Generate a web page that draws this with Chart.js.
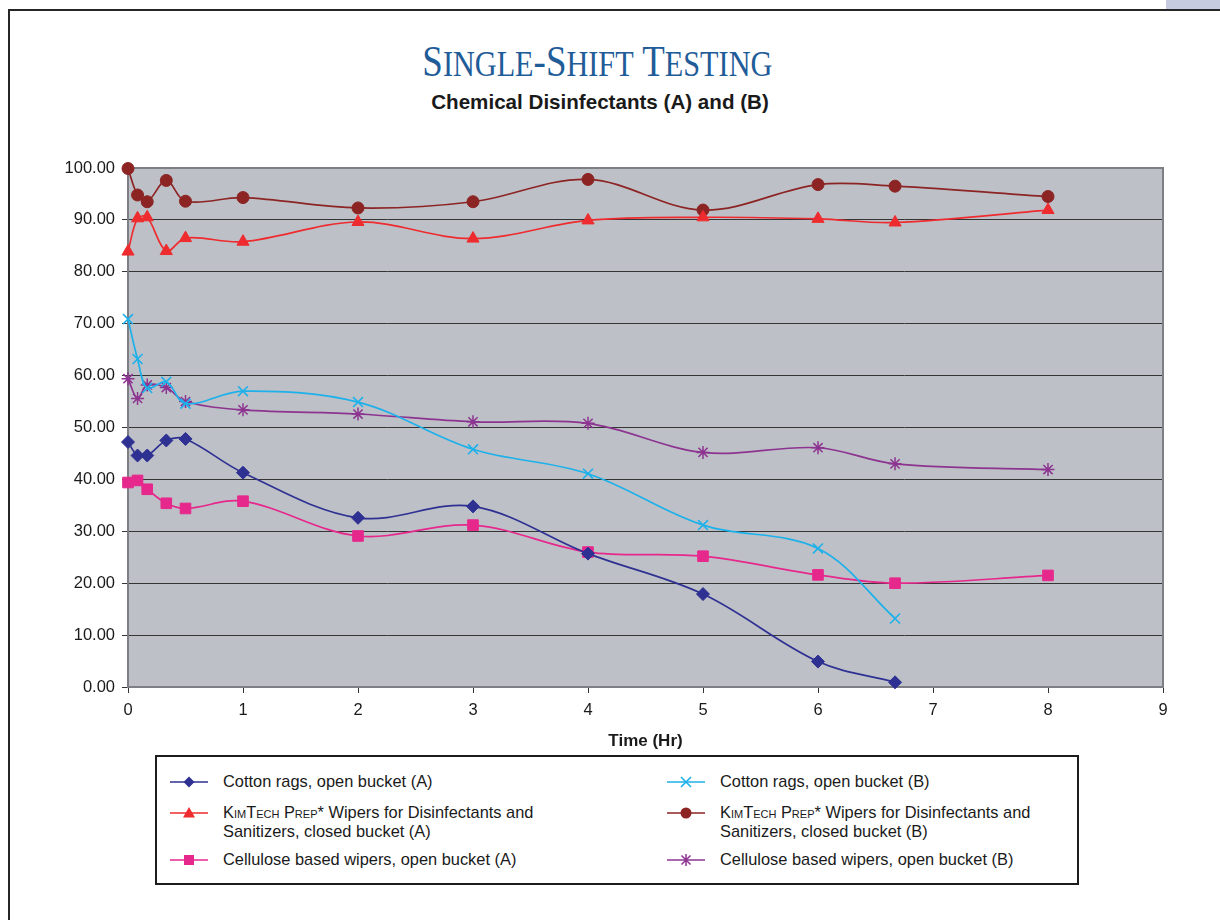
<!DOCTYPE html>
<html>
<head>
<meta charset="utf-8">
<script src="https://cdn.jsdelivr.net/npm/chart.js@4.4.1/dist/chart.umd.min.js"></script>
<style>
html,body{margin:0;padding:0;background:#fff;width:1220px;height:920px;overflow:hidden;}
body{position:relative;font-family:"Liberation Sans",Arial,sans-serif;color:#1a1a1a;}
#frameTop{position:absolute;left:8px;top:9px;width:1212px;height:2px;background:#262626;}
#frameLeft{position:absolute;left:8px;top:9px;width:2px;height:911px;background:#262626;}
#tab{position:absolute;left:1166px;top:0;width:54px;height:9px;background:#c6cbe0;}
#title{position:absolute;left:0;width:1194px;top:38px;text-align:center;font-family:"Liberation Serif","Times New Roman",serif;color:#1f5c98;font-size:44px;line-height:48px;white-space:nowrap;}
#title .in{display:inline-block;transform:scaleX(0.84);transform-origin:center;}
#title .sc{font-size:36px;}
#subtitle{position:absolute;left:0;width:1200px;top:89px;text-align:center;font-weight:bold;font-size:20.6px;line-height:25px;white-space:nowrap;}
#chart{position:absolute;left:0;top:0;}
#legend{position:absolute;left:155px;top:755px;width:920px;height:126px;border:2px solid #1c1c1c;background:#fff;}
.item{position:absolute;font-size:16.4px;line-height:19px;white-space:nowrap;}
.item svg{position:absolute;left:0;top:0;}
.item .txt{position:absolute;white-space:nowrap;}
.sm{font-variant:small-caps;}
</style>
</head>
<body>
<div id="tab"></div>
<div id="frameTop"></div>
<div id="frameLeft"></div>
<div id="title"><span class="in">S<span class="sc">INGLE</span>-S<span class="sc">HIFT</span> T<span class="sc">ESTING</span></span></div>
<div id="subtitle">Chemical Disinfectants (A) and (B)</div>
<canvas id="chart" width="1220" height="920"></canvas>
<div id="legend"></div>
<script>
// ---- data ----
const times = [0, 0.083, 0.167, 0.333, 0.5, 1, 2, 3, 4, 5, 6, 6.67, 8];
const cottonA = [47.2, 44.6, 44.6, 47.5, 47.8, 41.3, 32.6, 34.8, 25.7, 17.9, 4.9, 0.9, null];
const cottonB = [70.9, 63.2, 57.6, 58.8, 54.6, 57.0, 54.9, 45.8, 41.1, 31.2, 26.7, 13.2, null];
const kimA = [83.9, 90.3, 90.5, 84.0, 86.5, 85.8, 89.6, 86.4, 89.9, 90.5, 90.2, 89.5, 91.9];
const kimB = [99.9, 94.8, 93.5, 97.6, 93.6, 94.3, 92.3, 93.5, 97.8, 91.9, 96.8, 96.5, 94.5];
const celluA = [39.4, 39.8, 38.1, 35.4, 34.4, 35.8, 29.1, 31.2, 26.0, 25.2, 21.6, 20.0, 21.5];
const celluB = [59.4, 55.6, 58.2, 57.7, 55.0, 53.4, 52.6, 51.1, 50.8, 45.2, 46.1, 43.0, 41.9];
const seriesLabels = [
  'Cotton rags, open bucket (A)',
  'Cotton rags, open bucket (B)',
  'KimTech Prep* Wipers for Disinfectants and\nSanitizers, closed bucket (A)',
  'KimTech Prep* Wipers for Disinfectants and\nSanitizers, closed bucket (B)',
  'Cellulose based wipers, open bucket (A)',
  'Cellulose based wipers, open bucket (B)'
];
const xTicks = [0,1,2,3,4,5,6,7,8,9];
const yTicks = [0,10,20,30,40,50,60,70,80,90,100];

function toXY(arr){
  return times.map((t,i)=>({x:t,y:arr[i]})).filter(p=>p.y!==null);
}

const styles = [
  {c:'#2e3192', ps:'rectRot', r:6.5, bw:1},
  {c:'#1cb1ea', ps:'crossRot', r:7, bw:1.6},
  {c:'#ee2b2e', ps:'triangle', r:7, bw:1},
  {c:'#8c2424', ps:'circle', r:6, bw:1},
  {c:'#e6288c', ps:'rect', r:7.5, bw:1},
  {c:'#8c3490', ps:'star', r:6.5, bw:1.5}
];
const values = [cottonA, cottonB, kimA, kimB, celluA, celluB];

const datasets = values.map((v,i)=>({
  label: seriesLabels[i],
  data: toXY(v),
  borderColor: styles[i].c,
  backgroundColor: styles[i].c,
  pointBackgroundColor: styles[i].c,
  pointBorderColor: styles[i].c,
  pointStyle: styles[i].ps,
  pointRadius: styles[i].r,
  pointBorderWidth: styles[i].bw,
  borderWidth: 1.7,
  tension: 0.35,
  fill: false,
  clip: false
}));

const plotBg = {
  id:'plotBg',
  beforeDraw(chart){
    const a = chart.chartArea, ctx = chart.ctx;
    ctx.save();
    ctx.fillStyle = '#bec0c8';
    ctx.fillRect(a.left, a.top, a.right-a.left, a.bottom-a.top);
    ctx.restore();
  },
  beforeDatasetsDraw(chart){
    const a = chart.chartArea, ctx = chart.ctx;
    ctx.save();
    ctx.strokeStyle = '#7d7f84';
    ctx.lineWidth = 2;
    ctx.strokeRect(a.left, a.top, a.right-a.left, a.bottom-a.top);
    ctx.restore();
  }
};

const chart = new Chart(document.getElementById('chart'), {
  type:'line',
  data:{datasets},
  plugins:[plotBg],
  options:{
    responsive:false,
    animation:false,
    devicePixelRatio:1,
    layout:{padding:{left:0, top:168, right:57, bottom:168}},
    plugins:{legend:{display:false}, tooltip:{enabled:false}, title:{display:false}},
    scales:{
      x:{
        type:'linear', min:0, max:9,
        afterBuildTicks(s){ s.ticks = xTicks.map(v=>({value:v})); },
        afterFit(s){ s.height = 65; },
        ticks:{font:{family:'"Liberation Sans", Arial, sans-serif', size:16.5}, color:'#1a1a1a', padding:8, maxRotation:0, autoSkip:false},
        grid:{drawOnChartArea:false, drawTicks:true, tickLength:6, color:'#333'},
        border:{display:true, color:'#7d7f84', width:2},
        title:{display:true, text:'Time (Hr)', color:'#1a1a1a', font:{family:'"Liberation Sans", Arial, sans-serif', size:17, weight:'bold'}, padding:{top:0,bottom:0}}
      },
      y:{
        type:'linear', min:0, max:100,
        afterBuildTicks(s){ s.ticks = yTicks.map(v=>({value:v})); },
        afterFit(s){ s.width = 128; },
        ticks:{font:{family:'"Liberation Sans", Arial, sans-serif', size:16.5}, color:'#1a1a1a', padding:7, callback:(v)=>Number(v).toFixed(2)},
        grid:{drawOnChartArea:true, drawTicks:true, tickLength:6, color:'#353535', lineWidth:1},
        border:{display:true, color:'#7d7f84', width:2}
      }
    }
  }
});

// ---- HTML legend built from the chart's datasets ----
function markerSVG(ps, c){
  const cx=19, cy=7;
  let m='';
  if(ps==='rectRot') m=`<polygon points="${cx-5.5},${cy} ${cx},${cy-5.5} ${cx+5.5},${cy} ${cx},${cy+5.5}" fill="${c}"/>`;
  else if(ps==='crossRot') m=`<path d="M${cx-5} ${cy-5}L${cx+5} ${cy+5}M${cx+5} ${cy-5}L${cx-5} ${cy+5}" stroke="${c}" stroke-width="1.6"/>`;
  else if(ps==='triangle') m=`<polygon points="${cx},${cy-6} ${cx+6},${cy+4.5} ${cx-6},${cy+4.5}" fill="${c}"/>`;
  else if(ps==='circle') m=`<circle cx="${cx}" cy="${cy}" r="5.5" fill="${c}"/>`;
  else if(ps==='rect') m=`<rect x="${cx-5}" y="${cy-5}" width="10" height="10" fill="${c}"/>`;
  else if(ps==='star') m=`<path d="M${cx-4.5} ${cy-4.5}L${cx+4.5} ${cy+4.5}M${cx+4.5} ${cy-4.5}L${cx-4.5} ${cy+4.5}M${cx} ${cy-6}L${cx} ${cy+6}" stroke="${c}" stroke-width="1.5"/>`;
  return `<svg width="40" height="14" viewBox="0 0 40 14"><line x1="0" y1="${cy}" x2="38" y2="${cy}" stroke="${c}" stroke-width="1.7"/>${m}</svg>`;
}
function fmtLabel(t){
  return t.replace('KimTech Prep*','<span class="sm">KimTech Prep</span>*').replace('\n','<br>');
}
const legend = document.getElementById('legend');
const rowTops = [15, 46, 93];
chart.data.datasets.forEach((ds,i)=>{
  const col = i%2, row = Math.floor(i/2);
  const d = document.createElement('div');
  d.className='item';
  d.style.left = (col===0? 13 : 510)+'px';
  d.style.top = rowTops[row]+'px';
  d.innerHTML = markerSVG(ds.pointStyle, ds.borderColor).replace('<svg','<svg style="top:3px"') +
    `<span class="txt" style="left:53px;top:0">${fmtLabel(ds.label)}</span>`;
  legend.appendChild(d);
});
</script>
</body>
</html>
